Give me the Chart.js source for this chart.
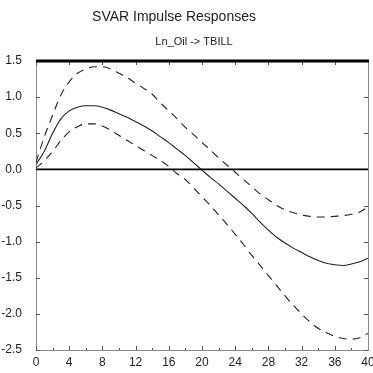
<!DOCTYPE html>
<html lang="en">
  <head>
    <meta charset="utf-8" />
    <title>SVAR Impulse Responses</title>
    <script src="https://cdn.jsdelivr.net/npm/chart.js"></script>
    <style>
      html, body { margin: 0; padding: 0; background: #fff; }
      .wrapper { width: 373px; height: 373px; }
    </style>
  </head>
  <body>
    <div class="wrapper">
      <canvas id="irfChart" width="373" height="373"></canvas>
    </div>
    <script>
      // lags 0..40
      const lags = [0,1,2,3,4,5,6,7,8,9,10,11,12,13,14,15,16,17,18,19,20,
                    21,22,23,24,25,26,27,28,29,30,31,32,33,34,35,36,37,38,39,40];
      const response = [0.07,0.25,0.50,0.70,0.81,0.86,0.88,0.88,0.86,0.82,0.77,
                        0.72,0.66,0.60,0.53,0.45,0.37,0.28,0.19,0.09,-0.01,
                        -0.11,-0.20,-0.30,-0.40,-0.50,-0.61,-0.73,-0.84,-0.94,-1.02,
                        -1.09,-1.15,-1.21,-1.26,-1.30,-1.32,-1.33,-1.31,-1.28,-1.23];
      const upperBand = [0.10,0.45,0.75,1.03,1.21,1.33,1.39,1.42,1.42,1.39,1.33,
                         1.27,1.19,1.12,1.04,0.92,0.81,0.70,0.58,0.48,0.37,
                         0.27,0.16,0.06,-0.04,-0.14,-0.24,-0.34,-0.42,-0.50,-0.56,
                         -0.60,-0.63,-0.65,-0.66,-0.66,-0.65,-0.64,-0.62,-0.59,-0.52];
      const lowerBand = [0.02,0.12,0.25,0.40,0.52,0.59,0.63,0.63,0.60,0.54,0.47,
                         0.40,0.33,0.26,0.19,0.12,0.04,-0.06,-0.14,-0.26,-0.38,
                         -0.50,-0.63,-0.76,-0.90,-1.04,-1.19,-1.33,-1.47,-1.61,-1.75,
                         -1.88,-2.00,-2.11,-2.20,-2.26,-2.31,-2.34,-2.35,-2.33,-2.27];
      const xTicks = [0,4,8,12,16,20,24,28,32,36,40];
      const xMinorTicks = [2,6,10,14,18,22,26,30,34,38];
      const yTicks = [-2.5,-2.0,-1.5,-1.0,-0.5,0.0,0.5,1.0,1.5];
      const titleText = "SVAR Impulse Responses";
      const subtitleText = "Ln_Oil -> TBILL";

      const toPts = (arr) => arr.map((v, i) => ({ x: lags[i], y: v }));

      // inward ticks, zero line, frame and titles
      const framePlugin = {
        id: "frame",
        afterDatasetsDraw(chart) {
          const { ctx, chartArea: a, scales: { x, y } } = chart;
          ctx.save();
          ctx.strokeStyle = "#555";
          ctx.lineWidth = 1;
          ctx.beginPath();
          xTicks.forEach((t) => {
            const px = Math.round(x.getPixelForValue(t)) + 0.5;
            ctx.moveTo(px, a.bottom); ctx.lineTo(px, a.bottom - 4);
            ctx.moveTo(px, a.top); ctx.lineTo(px, a.top + 4);
          });
          xMinorTicks.forEach((t) => {
            const px = Math.round(x.getPixelForValue(t)) + 0.5;
            ctx.moveTo(px, a.bottom); ctx.lineTo(px, a.bottom - 2);
          });
          yTicks.forEach((t) => {
            const py = Math.round(y.getPixelForValue(t)) + 0.5;
            ctx.moveTo(a.left, py); ctx.lineTo(a.left + 4, py);
            ctx.moveTo(a.right, py); ctx.lineTo(a.right - 4, py);
          });
          ctx.stroke();
          // right border
          ctx.strokeStyle = "#888";
          ctx.beginPath();
          ctx.moveTo(Math.round(a.right) + 0.5, a.top);
          ctx.lineTo(Math.round(a.right) + 0.5, a.bottom);
          ctx.stroke();
          // zero line
          ctx.strokeStyle = "#000";
          ctx.lineWidth = 1.6;
          const z = y.getPixelForValue(0);
          ctx.beginPath();
          ctx.moveTo(a.left, z); ctx.lineTo(a.right, z);
          ctx.stroke();
          // top thick line
          ctx.lineWidth = 3;
          ctx.beginPath();
          ctx.moveTo(a.left, a.top); ctx.lineTo(a.right + 1, a.top);
          ctx.stroke();
          // titles
          ctx.fillStyle = "#222";
          ctx.textAlign = "center";
          ctx.textBaseline = "middle";
          ctx.font = "14px 'Liberation Sans', Arial, sans-serif";
          ctx.fillText(titleText, 174, 17);
          ctx.font = "11px 'Liberation Sans', Arial, sans-serif";
          ctx.fillText(subtitleText, 194, 42);
          ctx.restore();
        }
      };

      const lineStyle = { pointRadius: 0, borderWidth: 1.1, borderColor: "#222",
                          fill: false, cubicInterpolationMode: "monotone" };

      new Chart(document.getElementById("irfChart"), {
        type: "line",
        data: {
          datasets: [
            Object.assign({ label: "Response", data: toPts(response) }, lineStyle),
            Object.assign({ label: "Upper", data: toPts(upperBand), borderDash: [8, 6] }, lineStyle),
            Object.assign({ label: "Lower", data: toPts(lowerBand), borderDash: [8, 6] }, lineStyle)
          ]
        },
        options: {
          responsive: false,
          animation: false,
          devicePixelRatio: 1,
          layout: { padding: { top: 61, right: 5, left: 0, bottom: 0 } },
          plugins: { legend: { display: false }, tooltip: { enabled: false } },
          scales: {
            x: {
              type: "linear",
              min: 0, max: 40,
              afterFit: (s) => { s.height = 23; s.paddingLeft = 0; s.paddingRight = 0; },
              afterBuildTicks: (s) => { s.ticks = xTicks.map((v) => ({ value: v })); },
              ticks: { autoSkip: false, maxRotation: 0, padding: 5, color: "#222",
                       font: { family: "'Liberation Sans', Arial, sans-serif", size: 12 } },
              grid: { drawOnChartArea: false, drawTicks: false },
              border: { color: "#888", width: 1 }
            },
            y: {
              min: -2.5, max: 1.5,
              afterFit: (s) => { s.width = 36; s.paddingTop = 0; s.paddingBottom = 0; },
              afterBuildTicks: (s) => { s.ticks = yTicks.map((v) => ({ value: v })); },
              ticks: { padding: 14, color: "#222",
                       callback: (v) => v.toFixed(1),
                       font: { family: "'Liberation Sans', Arial, sans-serif", size: 12 } },
              grid: { drawOnChartArea: false, drawTicks: false },
              border: { color: "#888", width: 1 }
            }
          }
        },
        plugins: [framePlugin]
      });
    </script>
  </body>
</html>
